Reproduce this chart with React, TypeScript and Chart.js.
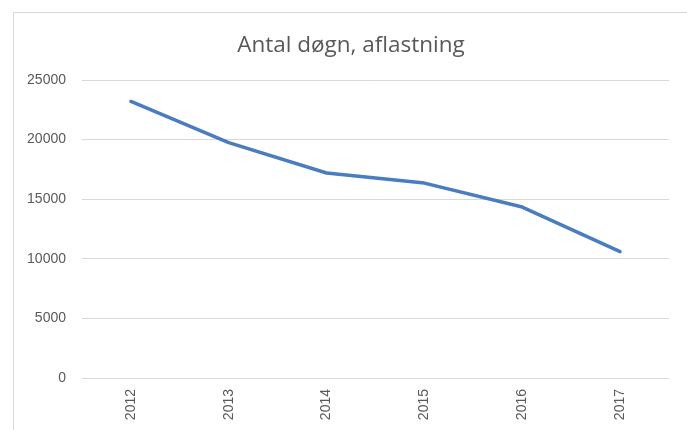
import React, { useEffect, useRef } from "react";
import { Chart, registerables } from "chart.js";

Chart.register(...registerables);

const categories: string[] = ["2012", "2013", "2014", "2015", "2016", "2017"];
const seriesValues: number[] = [23200, 19750, 17200, 16350, 14340, 10600];
const titleText = "Antal døgn, aflastning";
const yMin = 0;
const yMax = 25000;
const yStep = 5000;

const titlePlugin = {
  id: "excelTitle",
  afterDraw(chart: any) {
    const ctx = chart.ctx;
    ctx.save();
    ctx.font = "normal 22.5px 'Open Sans', sans-serif";
    ctx.fillStyle = "#595959";
    ctx.textAlign = "center";
    ctx.textBaseline = "alphabetic";
    ctx.fillText(titleText, 351, 52);
    ctx.restore();
  },
};

export default function App() {
  const canvasRef = useRef<HTMLCanvasElement | null>(null);

  useEffect(() => {
    if (!canvasRef.current) return;
    const chart = new Chart(canvasRef.current, {
      type: "line",
      data: {
        labels: categories,
        datasets: [
          {
            label: titleText,
            data: seriesValues,
            borderColor: "#4a7cc0",
            backgroundColor: "#4a7cc0",
            borderWidth: 3.5,
            pointRadius: 0,
            pointHoverRadius: 0,
            tension: 0,
            borderCapStyle: "round",
            borderJoinStyle: "round",
            fill: false,
          },
        ],
      },
      plugins: [titlePlugin],
      options: {
        animation: false,
        responsive: false,
        maintainAspectRatio: false,
        layout: { padding: { left: 0, right: 18, top: 80, bottom: 0 } },
        plugins: {
          legend: { display: false },
          tooltip: { enabled: false },
          title: { display: false },
        },
        scales: {
          x: {
            offset: true,
            grid: { display: false, drawTicks: false },
            border: { display: false },
            ticks: {
              color: "#595959",
              font: { family: "'Liberation Sans', Arial, sans-serif", size: 14 },
              minRotation: 90,
              maxRotation: 90,
              padding: 11,
            },
            afterFit: (scale: any) => {
              scale.height = 52;
            },
          },
          y: {
            min: yMin,
            max: yMax,
            grid: { color: "#d9d9d9", lineWidth: 1, drawTicks: false },
            border: { display: false },
            ticks: {
              stepSize: yStep,
              color: "#595959",
              font: { family: "'Liberation Sans', Arial, sans-serif", size: 14 },
              padding: 16,
              callback: (value: any) => String(value),
            },
            afterFit: (scale: any) => {
              scale.width = 82;
            },
          },
        },
      },
    });
    return () => {
      chart.destroy();
    };
  }, []);

  return (
    <div
      style={{
        position: "fixed",
        left: 0,
        top: 0,
        width: 687,
        height: 430,
        overflow: "hidden",
        background: "#ffffff",
      }}
    >
      <canvas ref={canvasRef} width={687} height={430} style={{ position: "absolute", left: 0, top: 0 }} />
      <div
        style={{
          position: "absolute",
          left: 13,
          top: 12,
          width: 700,
          height: 500,
          border: "1px solid #d9d9d9",
          boxSizing: "border-box",
          pointerEvents: "none",
        }}
      />
    </div>
  );
}
